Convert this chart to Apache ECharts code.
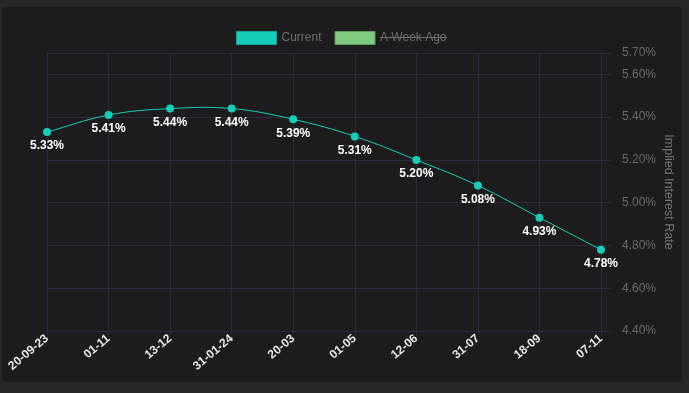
<!DOCTYPE html>
<html><head><meta charset="utf-8">
<script src="https://cdn.jsdelivr.net/npm/echarts@6/dist/echarts.min.js"></script>
<style>
html,body{margin:0;padding:0;background:#262626;width:689px;height:393px;overflow:hidden;}
#panel{position:absolute;left:2px;top:7px;width:680px;height:375px;background:#1c1c1c;border-radius:4px;}
#chart{position:absolute;left:0;top:0;width:689px;height:393px;}
</style></head>
<body><div id="panel"></div><div id="chart"></div>
<script>
const categories = ['20-09-23','01-11','13-12','31-01-24','20-03','01-05','12-06','31-07','18-09','07-11'];
const currentValues = [5.33, 5.41, 5.44, 5.44, 5.39, 5.31, 5.20, 5.08, 4.93, 4.78];
const weekAgoValues = [];
const yMin = 4.4, yMax = 5.7, yStep = 0.2;

const grid = '#2d2a3b';
const lineColor = '#17cdb9';
const tension = 0.4;

// Chart.js-style spline control points computed from library coordinates
function ctrl(pts, i) {
  const prev = pts[Math.max(i - 1, 0)], cur = pts[i], next = pts[Math.min(i + 1, pts.length - 1)];
  const d01 = Math.hypot(cur[0] - prev[0], cur[1] - prev[1]);
  const d12 = Math.hypot(next[0] - cur[0], next[1] - cur[1]);
  let s01 = d01 / (d01 + d12), s12 = d12 / (d01 + d12);
  if (isNaN(s01)) s01 = 0; if (isNaN(s12)) s12 = 0;
  const fa = tension * s01, fb = tension * s12;
  return {
    prev: [cur[0] - fa * (next[0] - prev[0]), cur[1] - fa * (next[1] - prev[1])],
    next: [cur[0] + fb * (next[0] - prev[0]), cur[1] + fb * (next[1] - prev[1])]
  };
}

const chart = echarts.init(document.getElementById('chart'), null, {renderer:'canvas'});
chart.setOption({
  backgroundColor: 'transparent',
  animation: false,
  textStyle: {fontFamily: 'Liberation Sans, Arial, sans-serif'},
  legend: {
    top: 26, left: 231, icon: 'rect', itemWidth: 40, itemHeight: 13, itemGap: 13,
    textStyle: {color: '#6e6e6e', fontSize: 12},
    data: [
      {name: 'Current', itemStyle: {color: lineColor, borderColor: '#14a594', borderWidth: 1}},
      {name: 'A Week Ago', itemStyle: {color: '#80c980', borderColor: '#5e9e5e', borderWidth: 1}}
    ]
  },
  graphic: [{type: 'line', shape: {x1: 380, y1: 37.5, x2: 447, y2: 37.5}, style: {stroke: '#6e6e6e', lineWidth: 1}, z: 100}],
  grid: {left: 47, right: 88, top: 53, bottom: 62},
  xAxis: {
    type: 'category', data: categories, boundaryGap: false,
    axisLine: {show: true, lineStyle: {color: grid}},
    axisTick: {show: true, length: 4, lineStyle: {color: grid}},
    splitLine: {show: true, lineStyle: {color: grid}},
    axisLabel: {rotate: 40, color: '#e6e6e6', fontSize: 12, fontWeight: 'bold', margin: 6, interval: 0}
  },
  yAxis: {
    type: 'value', position: 'right', min: yMin, max: yMax, interval: yStep,
    name: 'Implied Interest Rate', nameLocation: 'middle', nameRotate: -90, nameGap: 61,
    nameMoveOverlap: false,
    nameTextStyle: {color: '#747474', fontSize: 12.5},
    axisLine: {show: true, lineStyle: {color: grid}},
    axisTick: {show: true, length: 10, lineStyle: {color: grid}},
    splitLine: {show: true, lineStyle: {color: grid}},
    axisLabel: {color: '#6a6a6a', fontSize: 12, margin: 21, formatter: v => v.toFixed(2) + '%'}
  },
  series: [
    {
      name: 'Current', type: 'custom', data: currentValues, z: 2, silent: true,
      itemStyle: {color: lineColor},
      renderItem: function (params, api) {
        const i = params.dataIndex;
        if (i >= currentValues.length - 1) return null;
        const pts = currentValues.map((v, k) => api.coord([k, v]));
        const a = ctrl(pts, i), b = ctrl(pts, i + 1);
        return {
          type: 'bezierCurve',
          shape: {x1: pts[i][0], y1: pts[i][1], x2: pts[i + 1][0], y2: pts[i + 1][1],
                  cpx1: a.next[0], cpy1: a.next[1], cpx2: b.prev[0], cpy2: b.prev[1]},
          style: {stroke: lineColor, lineWidth: 1, fill: null}
        };
      }
    },
    {
      name: 'Current', type: 'line', data: currentValues, z: 3,
      symbol: 'circle', symbolSize: 8,
      itemStyle: {color: lineColor},
      lineStyle: {width: 0, opacity: 0},
      label: {show: true, position: 'bottom', distance: 4, color: '#ffffff', fontSize: 12, fontWeight: 'bold',
        formatter: p => p.value.toFixed(2) + '%'}
    },
    {name: 'A Week Ago', type: 'line', data: weekAgoValues, itemStyle: {color: '#80c980'}}
  ]
});
</script></body></html>
